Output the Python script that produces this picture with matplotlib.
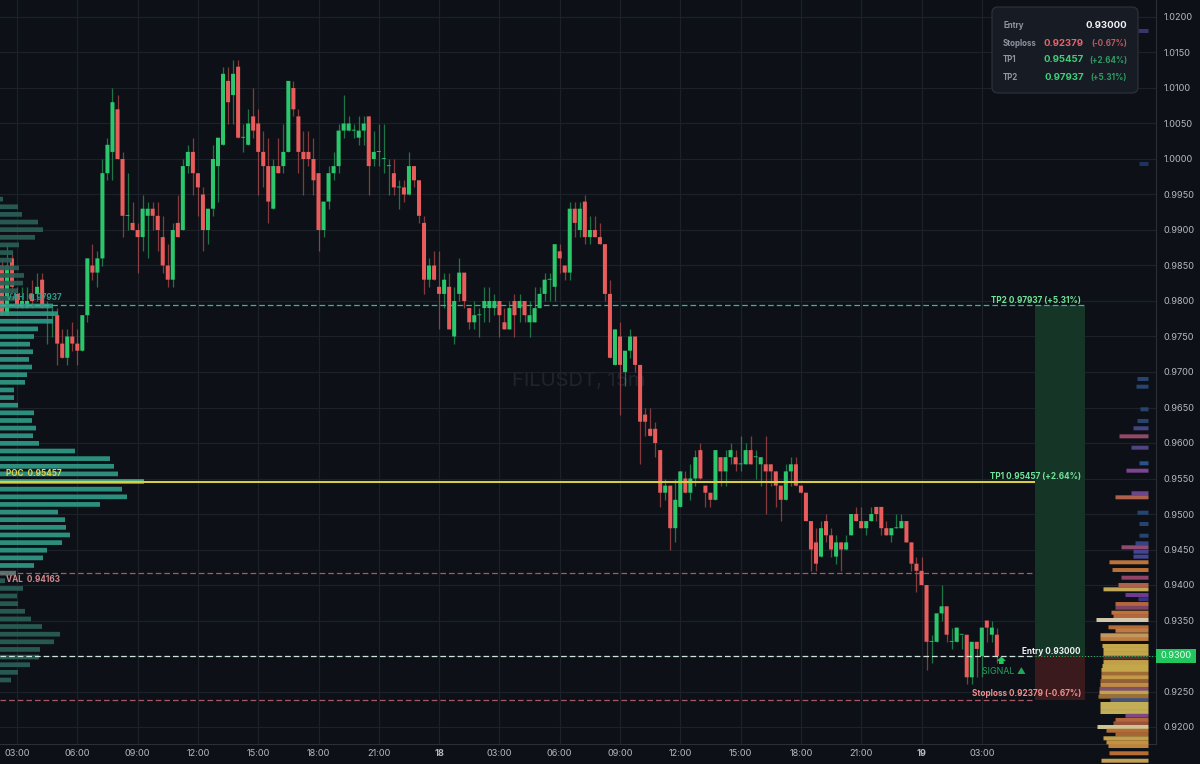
import numpy as np
import matplotlib
matplotlib.use('Agg')
import matplotlib.pyplot as plt
from matplotlib.patches import FancyBboxPatch, Rectangle
from matplotlib.transforms import Affine2D
from matplotlib.ticker import FuncFormatter

plt.rcParams['font.family'] = ['Inter', 'DejaVu Sans']

# candles, prices in thousandths, first candle sits 3 bars left of the 03:00 tick
opens = [985,978,986,981,979,979,981,981,983,979,
         978,978,974,972,975,974,973,978,985,984,
         986,998,1001,1007,1000,992,991,990,989,992,
         993,992,989,985,983,991,990,999,1001,998,
         995,990,993,999,1002,1011,1009,1013,1003,1002,
         1006,1005,1001,999,993,999,999,1001,1010,1006,
         1001,1001,1000,998,990,994,998,999,1004,1004,
         1004,1003,1004,1006,1000,1001,1000,999,998,996,
         996,995,999,997,991,983,985,982,981,982,
         975,981,984,979,977,978,979,979,979,980,
         977,976,980,979,980,977,977,979,981,983,
         982,987,985,984,993,990,994,989,990,989,
         988,981,971,975,970,973,975,971,964,962,
         962,959,953,954,948,951,955,953,955,959,
         954,953,952,958,956,958,958,957,957,959,
         958,957,957,957,956,954,952,956,957,954,
         953,949,946,944,949,947,944,946,945,947,
         950,949,948,949,951,951,948,947,948,948,
         949,946,943,942,940,932,932,936,937,932,
         932,933,933,927,932,930,935,933,933]
highs = [986,988,987,982,982,982,983,984,984,980,
         979,979,976,976,977,976,978,986,988,987,
         1000,1003,1010,1009,1001,998,994,991,995,994,
         994,994,992,988,991,995,1000,1002,1003,998,
         996,993,1002,1003,1013,1013,1014,1014,1005,1007,
         1010,1007,1004,1003,1000,1003,1005,1011,1011,1007,
         1004,1004,1003,998,994,999,1001,1005,1009,1006,
         1005,1006,1006,1006,1004,1005,1005,1000,1000,997,
         997,1001,999,997,992,986,987,987,984,984,
         982,986,984,979,980,979,982,982,981,980,
         979,980,981,981,980,980,982,982,984,984,
         988,988,985,994,994,994,995,992,992,991,
         988,983,976,977,973,976,975,971,965,965,
         963,959,955,954,955,956,956,957,959,960,
         954,953,959,958,959,960,959,961,960,961,
         959,958,961,957,956,954,957,958,958,954,
         953,949,948,949,950,948,947,946,947,950,
         951,951,949,951,951,951,949,948,950,950,
         949,946,944,944,940,933,936,940,937,934,
         934,933,933,932,932,934,935,935,934]
lows = [978,978,981,979,979,979,979,980,979,974,
        975,971,972,971,973,971,973,977,983,982,
        985,997,997,1000,989,990,990,984,987,986,
        990,987,984,982,982,989,990,998,995,992,
        987,988,992,994,1002,1005,1005,1003,1001,1002,
        1003,995,996,991,993,998,998,1001,1006,998,
        995,999,995,987,989,993,997,998,1003,1004,
        1003,1002,1002,995,999,999,998,995,995,993,
        994,995,996,991,981,982,983,976,979,976,
        974,980,979,976,976,975,977,977,978,975,
        976,976,975,977,977,975,977,979,980,980,
        980,984,983,983,989,989,988,988,989,988,
        980,972,971,964,968,972,970,957,961,961,
        958,951,952,945,946,951,953,952,954,955,
        951,951,952,954,954,957,956,956,957,957,
        955,954,950,954,951,949,952,954,954,953,
        949,942,942,944,946,944,943,942,945,947,
        949,948,947,949,949,947,947,946,948,948,
        946,942,939,940,928,929,932,935,932,931,
        932,931,926,926,927,927,932,932,929]
closes = [978,985,982,979,980,980,980,982,979,979,
          978,974,972,975,974,973,978,986,984,986,
          998,1002,1008,1000,992,992,990,989,993,993,
          992,990,985,983,990,989,999,1001,998,996,
          990,993,1000,1003,1012,1008,1012,1003,1003,1005,
          1004,1001,999,994,999,998,1001,1011,1007,1001,
          1000,1000,997,990,994,998,999,1004,1005,1005,
          1004,1004,1005,999,1001,1001,1000,999,996,996,
          995,999,997,992,983,985,983,981,983,976,
          980,984,980,977,978,978,980,980,980,978,
          976,979,978,980,978,978,979,981,983,983,
          988,986,984,993,991,993,989,990,989,988,
          981,972,976,971,973,975,971,963,963,961,
          960,953,954,948,952,956,953,955,958,955,
          953,952,959,956,958,959,957,957,959,957,
          958,958,956,956,954,952,956,957,954,953,
          949,945,943,948,947,945,946,945,946,950,
          949,948,949,950,950,948,947,948,948,949,
          946,943,942,940,932,932,936,937,933,932,
          934,933,927,932,931,934,934,934,930]

time_labels = ['03:00','06:00','09:00','12:00','15:00','18:00','21:00','18',
               '03:00','06:00','09:00','12:00','15:00','18:00','21:00','19','03:00']

# trade levels
entry, stoploss, tp1, tp2 = 0.93000, 0.92379, 0.95457, 0.97937
poc, vah, val = 0.95457, 0.97937, 0.94163

# session profile on the left
profile_prices = [.99435,.99327,.99220,.99112,.99005,.98897,.98790,.98682,.98575,.98467,
                  .98360,.98252,.98145,.98037,.97930,.97822,.97715,.97607,.97500,.97392,
                  .97285,.97177,.97070,.96962,.96855,.96747,.96640,.96532,.96425,.96317,
                  .96210,.96102,.95995,.95887,.95780,.95672,.95565,.95457,.95350,.95242,
                  .95135,.95027,.94920,.94812,.94705,.94597,.94490,.94382,.94275,.94167,
                  .94060,.93952,.93845,.93737,.93630,.93522,.93415,.93307,.93200,.93092,
                  .92985,.92877,.92770,.92662]
profile_vols = [3,18,22,38,43,35,19,13,12,19,24,23,17,15,53,58,53,38,34,30,33,29,32,
                27,25,14,14,18,34,32,36,33,39,75,110,114,118,144,
                122,127,100,58,65,66,70,62,47,43,34,16,5,23,17,18,25,31,42,60,54,40,39,30,18,11]

# order-book heat bars on the right
heat_prices = [1.01803,.99930,.96901,.96793,.96475,.96310,.96207,.96094,.95934,.95714,
               .95610,.95292,.95235,.95018,.94859,.94694,.94587,.94531,.94469,.94399,
               .94320,.94211,.94103,.94000,.93939,.93859,.93799,.93732,.93680,.93610,
               .93559,.93507,.93404,.93356,.93292,.93240,.93141,.93085,.93028,.92976,
               .92915,.92859,.92803,.92751,.92700,.92648,.92592,.92535,.92483,.92427,
               .92380,.92324,.92268,.92211,.92159,.92099,.92052,.92000,.91948,.91897,
               .91841,.91785,.91732,.91630,.91525]
heat_sizes = [10,9,11,12,8,11,15,29,17,9,
              22,17,33,11,9,9,13,27,15,15,
              39,36,27,30,45,23,10,33,33,37,
              35,52,40,33,48,48,46,45,45,45,
              45,46,47,47,47,48,48,49,49,50,
              38,48,48,48,23,33,35,51,42,33,
              45,42,40,39,47]
heat_colors = ['#3c3a78','#1f3a66','#2a4a7a','#2a4a7a','#2a4a7a','#2a4a7a','#4a4a90','#a05070','#5a4a90','#2a5a9a',
               '#8a4aa0','#7a4a9a','#c06a50','#2a4a7a','#2a4a7a','#2a4a7a','#3a4a90','#a0507a','#4a4aa0','#4a4aa0',
               '#d08040','#cc7a3c','#a04a70','#c06a50','#d8b860','#7a40a0','#3a3a90','#c87040','#8a4a70','#d08040',
               '#c87040','#e8dcc0','#c8783c','#d08848','#d8a868','#d08a44','#d8b850','#d8b850','#d8b850','#5a3a30',
               '#d8b050','#d8b850','#d8b850','#b07838','#d8a850','#a06a38','#d89850','#8a5a70','#d8b058','#b07838',
               '#4a5a80','#d8c060','#d8c060','#d8c060','#8a5090','#c87040','#a85a40','#e0d8a0','#c8783c','#b87038',
               '#d8b050','#d8a048','#d09040','#c87838','#d8b058']

BG = '#0d1117'
GRID = '#1c212a'
SPINE = '#2a2f39'
GREEN = '#2cc76c'
RED = '#e85c5c'
W, H = 1200, 764

fig = plt.figure(figsize=(12, 7.64), dpi=100, facecolor=BG)
ax = fig.add_axes([0, 20 / H, 1155.5 / W, 744 / H], facecolor=BG)
px = Affine2D().scale(1 / W, -1 / H).translate(0, 1) + fig.transFigure

o = np.array(opens) / 1000
h = np.array(highs) / 1000
l = np.array(lows) / 1000
c = np.array(closes) / 1000
x = np.arange(len(o)) - 3
up = c >= o

# bar index 0 is at pixel 17, bars are 5.025 px apart
ax.set_xlim(-17 / 5.025, (1155.5 - 17) / 5.025)
ax.set_ylim(1.02 - 727 / 7100, 1.02 + 17 / 7100)

ax.set_xticks(np.arange(len(time_labels)) * 12)
ax.set_xticklabels(time_labels)
ax.set_yticks(np.arange(0.92, 1.0201, 0.005))
# the last price tag takes the place of the 0.9300 label
ax.yaxis.set_major_formatter(FuncFormatter(lambda v, pos: '' if abs(v - entry) < 1e-6 else f'{v:.4f}'))
ax.yaxis.tick_right()
ax.tick_params(length=0, colors='#b4b8c0', labelsize=6.6)
ax.tick_params(axis='y', pad=5.5)
ax.tick_params(axis='x', pad=3.5)
for lab in ax.get_xticklabels():
    if lab.get_text() in ('18', '19'):
        lab.set_fontweight('bold')
ax.grid(True, color=GRID, linewidth=0.8, zorder=0)
ax.set_axisbelow(True)
for name, spine in ax.spines.items():
    spine.set_visible(name in ('right', 'bottom'))
    spine.set_color(SPINE)
    spine.set_linewidth(0.8)

ax.text(512 / 5.025 - 17 / 5.025, 0.9688, 'FILUSDT, 15m', fontsize=14.5, color='#1f242d',
        ha='left', va='center', zorder=1)

# candles
colors = np.where(up, GREEN, RED)
ax.vlines(x, l, h, colors=colors, linewidth=0.9, alpha=0.55, zorder=3)
bottoms = np.minimum(o, c)
heights = np.maximum(np.abs(c - o), 0.00012)
bars = ax.bar(x, heights, bottom=bottoms, width=0.8, color=colors, linewidth=0, zorder=4)
for b in bars:
    b.set_snap(False)

# overlay in pixel x units
ax_right = ax.twiny()
ax_right.set_xlim(1148.5, 1148.5 - 1155.5)
ax_right.axis('off')
heat = ax_right.barh(heat_prices, heat_sizes, height=0.00056, color=heat_colors, alpha=0.9,
                     linewidth=0, clip_on=False, zorder=2)
for b in heat:
    b.set_snap(False)

ax_left = ax.twiny()
ax_left.set_xlim(0, 1155.5)
ax_left.axis('off')

# target and stop zones
ax_left.add_patch(Rectangle((1035, entry), 50, tp2 - entry, facecolor='#153527', edgecolor='none', zorder=1))
ax_left.add_patch(Rectangle((1035, stoploss), 50, entry - stoploss, facecolor='#3a1a1c', edgecolor='none', zorder=1))

prof_colors = []
for p in profile_prices:
    if abs(p - poc) < 1e-6:
        prof_colors.append('#4fb389')
    elif abs(p - val) < 0.0006:
        prof_colors.append('#5f7a76')
    elif val < p < vah + 0.0003:
        prof_colors.append('#2f9a86')
    else:
        prof_colors.append('#2a5f58')
prof = ax_left.barh(profile_prices, profile_vols, height=0.00066, color=prof_colors, alpha=0.92, linewidth=0, zorder=2)
for b in prof:
    b.set_snap(False)

# levels
dash = (0, (4.5, 2.4))
ax_left.hlines(tp2, 0, 1085, colors='#34b88f', linewidth=0.9, linestyles=dash, zorder=5)
ax_left.hlines(poc, 0, 1035, colors='#d6cf45', linewidth=1.5, zorder=5)
ax_left.hlines(val, 0, 1035, colors='#a85a62', linewidth=0.9, linestyles=dash, zorder=5)
ax_left.hlines(entry, 0, 1035, colors='#cfe4da', linewidth=0.9, linestyles=dash, zorder=5)
ax_left.hlines(entry, 1035, 1155, colors='#2cc76c', linewidth=0.7, linestyles=(0, (1, 2)), zorder=5)
ax_left.hlines(stoploss, 0, 1035, colors='#a85a62', linewidth=0.9, linestyles=dash, zorder=5)


def label(xp, yp, s, color, ha='left', size=5.9, weight='bold', **kw):
    fig.text(xp, yp, s, transform=px, color=color, ha=ha, va='center',
             fontsize=size, fontweight=weight, zorder=10, **kw)


label(6, 298, 'VAH  0.97937', '#2f9a86')
label(6, 474, 'POC  0.95457', '#dcd24e')
label(6, 580, 'VAL  0.94163', '#cf8a8e')
label(1081, 300, 'TP2 0.97937 (+5.31%)', '#72e39a', ha='right')
label(1081, 476, 'TP1 0.95457 (+2.64%)', '#72e39a', ha='right')
label(1081, 651, 'Entry 0.93000', '#f0f2f4', ha='right')
label(1081, 694, 'Stoploss 0.92379 (-0.67%)', '#ef8f8f', ha='right')
label(982, 672, 'SIGNAL ▲', '#22a35a', size=6.4, weight='normal')
label(1001, 661, '⬆', '#22c55e', ha='center', size=7)

# last price tag
fig.add_artist(Rectangle((1156, 649), 40, 13.5, transform=px, facecolor='#22c55e', edgecolor='none', zorder=9))
label(1176, 655.5, '0.9300', '#eafff2', ha='center', size=6.6, weight='normal')

# info panel
fig.add_artist(FancyBboxPatch((992, 7), 146, 86, boxstyle='round,pad=0,rounding_size=6', transform=px,
                              facecolor='#171b24', edgecolor='#2b303a', linewidth=0.9, zorder=9))
label(1003, 26, 'Entry', '#8f94a0', size=5.7)
label(1127, 26, '0.93000', '#f2f4f6', ha='right', size=6.9)
label(1003, 43, 'Stoploss', '#8f94a0', size=5.7)
label(1084, 43, '0.92379', '#e8636a', ha='right', size=6.9)
label(1127, 43.5, '(-0.67%)', '#b95a60', ha='right', size=5.8)
label(1003, 60, 'TP1', '#8f94a0', size=5.7)
label(1084, 60, '0.95457', '#3ecf78', ha='right', size=6.9)
label(1127, 60.5, '(+2.64%)', '#2f9a62', ha='right', size=5.8)
label(1003, 77, 'TP2', '#8f94a0', size=5.7)
label(1084, 77, '0.97937', '#3ecf78', ha='right', size=6.9)
label(1127, 77.5, '(+5.31%)', '#2f9a62', ha='right', size=5.8)

fig.savefig('out.png', dpi=100, facecolor=BG)
